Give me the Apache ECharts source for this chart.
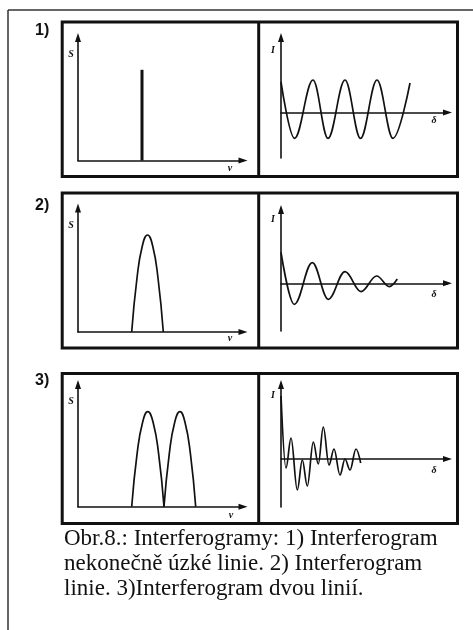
<!DOCTYPE html>
<html>
<head>
<meta charset="utf-8">
<title>Interferogramy</title>
<script src="https://cdn.jsdelivr.net/npm/echarts@6/dist/echarts.min.js"></script>
<style>
  html, body { margin: 0; padding: 0; background: #fff; }
  #chart { width: 473px; height: 630px; }
</style>
</head>
<body>
<div id="chart"></div>
<script>
// Spectra S(ν): one infinitely narrow line, one line of finite width, two lines
const spikeNu = [6.4];
const spikeS = [9.07];
const arch2Nu = [5.37, 5.9, 6.43, 6.95, 7.47, 8.0, 8.53];
const arch2S = [0, 5.4, 8.6, 9.7, 8.6, 5.4, 0];
const arch3aNu = [5.37, 5.91, 6.45, 6.98, 7.52, 8.06, 8.6];
const arch3aS = [0, 5.3, 8.4, 9.5, 8.4, 5.3, 0];
const arch3bNu = [8.6, 9.13, 9.66, 10.19, 10.71, 11.24, 11.77];
const arch3bS = [0, 5.3, 8.4, 9.5, 8.4, 5.3, 0];

// Interferograms I(δ): turning points of each trace
const delta1 = [0, 1.35, 3.2, 4.7, 6.4, 7.95, 9.6, 11.2, 12.9];
const i1 = [3.05, -2.58, 3.25, -2.58, 3.25, -2.58, 3.25, -2.58, 2.95];
const delta2 = [0, 1.33, 3.13, 4.73, 6.4, 8.0, 9.57, 10.83, 11.63];
const i2 = [3.1, -2.1, 2.07, -1.6, 1.17, -0.83, 0.73, -0.33, 0.43];
const delta3 = [0, 0.5, 1.0, 1.63, 2.13, 2.63, 3.23, 3.73, 4.23, 4.8, 5.3, 5.9, 6.4, 6.9, 7.5, 7.97];
const i3 = [6.3, -0.9, 2.1, -3.1, -0.1, -2.7, 1.7, -0.5, 3.2, -0.6, 1.0, -1.6, 0.0, -1.1, 1.0, -0.4];

// Texts
const panelLabels = ['1)', '2)', '3)'];
const spectrumAxisNames = ['S', 'ν'];
const interferogramAxisNames = ['I', 'δ'];
const captionLines = [
  'Obr.8.: Interferogramy: 1) Interferogram',
  'nekonečně úzké linie. 2) Interferogram',
  'linie. 3)Interferogram dvou linií.'
];

const zip = (xs, ys) => xs.map((x, k) => [x, ys[k]]);
const INK = '#111';

// Plot areas: spectrum on the left, interferogram on the right of each row
const grids = [
  { left: 78, top: 37.5, width: 165, height: 123 },
  { left: 281, top: 37.5, width: 166.5, height: 120.5 },
  { left: 78, top: 208, width: 165, height: 124 },
  { left: 281, top: 209.5, width: 166.5, height: 121.5 },
  { left: 78, top: 384.5, width: 165, height: 122.2 },
  { left: 281, top: 384.5, width: 166.5, height: 122.5 }
].map(g => Object.assign({ outerBoundsMode: 'none' }, g));

const xRanges = [[0, 16.5], [0, 16.65], [0, 16.5], [0, 16.65], [0, 16.5], [0, 16.65]];
const yRanges = [[0, 12.3], [-4.55, 7.5], [0, 12.4], [-4.77, 7.38], [0, 12.22], [-4.8, 7.45]];

function arrowAxis(gridIndex, range) {
  return {
    type: 'value',
    gridIndex: gridIndex,
    min: range[0],
    max: range[1],
    axisLine: {
      show: true,
      onZero: true,
      symbol: ['none', 'triangle'],
      symbolSize: [6, 9],
      lineStyle: { color: INK, width: 1.6 }
    },
    axisTick: { show: false },
    axisLabel: { show: false },
    splitLine: { show: false }
  };
}

const lineBase = {
  type: 'line',
  symbol: 'none',
  showSymbol: false,
  silent: true,
  lineStyle: { color: INK, width: 1.7 }
};
const archSeries = (idx, data) => Object.assign({}, lineBase, {
  xAxisIndex: idx, yAxisIndex: idx, data: data, smooth: 0.5
});
const waveSeries = (idx, data) => Object.assign({}, lineBase, {
  xAxisIndex: idx, yAxisIndex: idx, data: data, smooth: 0.37, smoothMonotone: 'x'
});

const series = [
  {
    type: 'bar', xAxisIndex: 0, yAxisIndex: 0, barWidth: 3, silent: true,
    itemStyle: { color: INK }, data: zip(spikeNu, spikeS)
  },
  waveSeries(1, zip(delta1, i1)),
  archSeries(2, zip(arch2Nu, arch2S)),
  waveSeries(3, zip(delta2, i2)),
  archSeries(4, zip(arch3aNu, arch3aS)),
  archSeries(4, zip(arch3bNu, arch3bS)),
  waveSeries(5, zip(delta3, i3))
];

// Frames, row labels, axis letters and caption
const rowBoxes = [
  { y: 22, h: 154.5 },
  { y: 193, h: 155 },
  { y: 373.5, h: 150 }
];
const graphic = [
  { type: 'line', shape: { x1: 8, y1: 10, x2: 473, y2: 10 }, style: { stroke: '#333', lineWidth: 1.5 } },
  { type: 'line', shape: { x1: 8, y1: 10, x2: 8, y2: 630 }, style: { stroke: '#333', lineWidth: 1.5 } }
];
const spectrumNamePos = [[[71, 54], [230, 168]], [[71, 225], [230, 338]], [[71, 401], [231, 515]]];
const interferoNamePos = [[[273, 50], [434, 120]], [[273, 219], [434, 294]], [[273, 395], [434, 470]]];
const labelY = [31, 206, 381];
rowBoxes.forEach((b, r) => {
  graphic.push({
    type: 'rect', shape: { x: 62.2, y: b.y, width: 395.3, height: b.h },
    style: { fill: 'none', stroke: INK, lineWidth: 3 }
  });
  graphic.push({
    type: 'line', shape: { x1: 258.7, y1: b.y, x2: 258.7, y2: b.y + b.h },
    style: { stroke: INK, lineWidth: 3 }
  });
  graphic.push({
    type: 'text', x: 35, y: labelY[r],
    style: { text: panelLabels[r], font: 'bold 16px "Liberation Sans", Arial, sans-serif', fill: INK, align: 'left', verticalAlign: 'middle' }
  });
  [spectrumAxisNames, interferogramAxisNames].forEach((names, side) => {
    const pos = side === 0 ? spectrumNamePos[r] : interferoNamePos[r];
    names.forEach((name, k) => {
      graphic.push({
        type: 'text', x: pos[k][0], y: pos[k][1],
        style: { text: name, font: 'italic bold 10px "Liberation Serif", serif', fill: INK, align: 'center', verticalAlign: 'middle' }
      });
    });
  });
});
graphic.push({
  type: 'text', x: 64, y: 526,
  style: {
    text: captionLines.join('\n'),
    font: '23px "Liberation Serif", "Times New Roman", serif',
    lineHeight: 25, fill: INK, align: 'left', verticalAlign: 'top'
  }
});

const chart = echarts.init(document.getElementById('chart'), null, { renderer: 'canvas' });
chart.setOption({
  backgroundColor: '#fff',
  animation: false,
  grid: grids,
  xAxis: xRanges.map((r, k) => arrowAxis(k, r)),
  yAxis: yRanges.map((r, k) => arrowAxis(k, r)),
  series: series,
  graphic: graphic
});
</script>
</body>
</html>
